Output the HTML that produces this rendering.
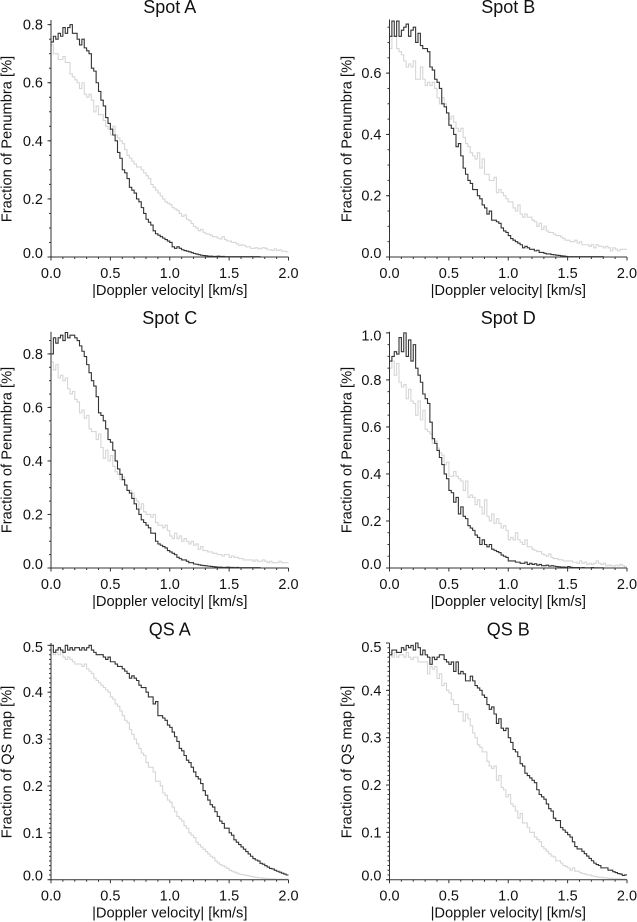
<!DOCTYPE html>
<html lang="en">
<head>
<meta charset="utf-8">
<title>Doppler velocity distributions</title>
<style>
html,body{margin:0;padding:0;background:#fff;width:637px;height:922px;overflow:hidden}
svg{display:block}
text{font-family:"Liberation Sans",Arial,sans-serif;fill:#111}
</style>
</head>
<body>
<svg id="chart" xmlns="http://www.w3.org/2000/svg" width="637" height="922" viewBox="0 0 637 922"></svg>
<script>
const xTickValues = [0, 0.5, 1, 1.5, 2];
const xTickLabels = ['0.0', '0.5', '1.0', '1.5', '2.0'];
const spotATicks = [0, 0.2, 0.4, 0.6, 0.8];
const spotBTicks = [0, 0.2, 0.4, 0.6];
const spotCTicks = [0, 0.2, 0.4, 0.6, 0.8];
const spotDTicks = [0, 0.2, 0.4, 0.6, 0.8, 1.0];
const qsTicks = [0, 0.1, 0.2, 0.3, 0.4, 0.5];

const spotADark = [.74,.76,.75,.77,.76,.79,.77,.79,.80,.77,.77,.75,.73,.75,.72,.71,.70,.65,.64,.60,.57,.54,.52,.48,.46,.44,.42,.40,.36,.34,.30,.29,.27,.24,.23,.22,.20,.19,.17,.15,.13,.12,.11,.09,.08,.075,.07,.065,.06,.055,.05,.035,.03,.035,.03,.025,.022,.02,.018,.015,.012,.01,.008,.006,.005,.004,.003,.003,.002,.002,.003,.002,.002,.001,.001,.001,.001,.001,.001,.001,.001,.001,.001,.001,.001,.001,.001,.001,0,0,0,0,0,0,0,0,0,0,0,0];
const spotALight = [.73,.70,.70,.68,.68,.69,.67,.67,.63,.62,.61,.60,.58,.60,.56,.55,.56,.54,.50,.52,.49,.49,.47,.45,.44,.42,.45,.42,.41,.40,.39,.37,.35,.34,.33,.32,.31,.31,.30,.29,.28,.27,.25,.24,.23,.22,.21,.20,.19,.185,.18,.17,.165,.16,.15,.14,.145,.13,.125,.115,.105,.10,.09,.095,.085,.08,.078,.075,.07,.07,.065,.062,.07,.06,.055,.055,.05,.05,.045,.04,.042,.04,.035,.035,.03,.03,.032,.028,.03,.032,.03,.025,.025,.022,.028,.022,.025,.02,.02,.018];

const spotBDark = [.72,.77,.72,.77,.72,.74,.75,.76,.72,.74,.75,.70,.73,.69,.68,.68,.67,.62,.61,.58,.57,.55,.50,.49,.47,.43,.42,.40,.36,.37,.33,.29,.27,.25,.24,.22,.22,.20,.19,.17,.16,.14,.15,.12,.12,.115,.11,.095,.085,.08,.07,.06,.055,.05,.045,.04,.03,.035,.03,.025,.025,.02,.022,.015,.015,.012,.01,.01,.008,.007,.006,.005,.004,.003,.002,.001,.001,.001,.001,.001,.001,.001,.001,.001,.001,.001,.001,.001,.001,.001,0,0,0,0,0,0,0,0,0,0];
const spotBLight = [.68,.72,.72,.68,.67,.66,.64,.62,.63,.62,.64,.58,.58,.62,.58,.56,.57,.56,.57,.55,.52,.50,.52,.50,.47,.45,.46,.44,.42,.41,.42,.39,.37,.36,.34,.33,.32,.34,.29,.32,.27,.27,.25,.25,.26,.21,.22,.21,.20,.19,.18,.18,.16,.15,.17,.14,.13,.14,.13,.13,.12,.115,.10,.11,.09,.10,.085,.08,.08,.075,.07,.07,.065,.06,.055,.055,.05,.05,.055,.045,.05,.04,.04,.04,.035,.04,.03,.04,.035,.035,.03,.035,.03,.02,.03,.025,.02,.025,.025,.025];

const spotCDark = [.80,.86,.84,.86,.87,.85,.88,.86,.87,.87,.86,.85,.83,.81,.79,.76,.73,.70,.68,.64,.58,.57,.55,.52,.48,.47,.44,.40,.37,.35,.33,.31,.29,.28,.26,.24,.22,.20,.18,.17,.16,.15,.13,.13,.10,.09,.085,.08,.075,.065,.06,.055,.05,.04,.035,.03,.03,.025,.02,.02,.015,.014,.012,.01,.009,.008,.007,.006,.005,.004,.003,.003,.002,.002,.003,.002,.002,.001,.002,.001,.001,.001,.001,.001,.001,.001,.001,.001,0,0,0,0,0,0,0,0,0,0,0,0];
const spotCLight = [.77,.74,.76,.71,.72,.70,.71,.67,.65,.66,.63,.62,.58,.59,.56,.57,.52,.51,.51,.48,.50,.45,.41,.44,.40,.42,.38,.36,.35,.33,.34,.31,.29,.29,.28,.26,.25,.22,.24,.21,.20,.20,.19,.20,.17,.16,.16,.15,.16,.14,.12,.11,.13,.11,.12,.10,.11,.10,.09,.10,.085,.09,.07,.08,.065,.065,.06,.06,.055,.055,.05,.05,.045,.05,.05,.04,.045,.04,.04,.035,.035,.03,.03,.03,.03,.025,.03,.025,.025,.03,.025,.02,.025,.02,.02,.02,.025,.02,.02,.02];

const spotDDark = [.88,.90,.92,.91,.98,.92,1.0,.90,.97,.88,.95,.85,.82,.79,.74,.72,.70,.62,.55,.53,.50,.47,.44,.40,.38,.33,.32,.28,.30,.23,.26,.22,.21,.18,.17,.16,.14,.13,.10,.12,.10,.09,.10,.08,.075,.07,.065,.055,.05,.045,.03,.03,.03,.025,.025,.02,.02,.025,.015,.02,.015,.018,.012,.015,.01,.01,.012,.008,.01,.008,.006,.005,.004,.004,.003,.006,.003,.002,.002,.002,.001,.002,.001,.001,.001,.002,.001,.001,.001,.001,0,0,0,0,0,0,0,0,0,0];
const spotDLight = [.85,.88,.82,.87,.79,.77,.78,.72,.76,.71,.70,.65,.71,.63,.67,.59,.58,.57,.53,.54,.51,.49,.48,.44,.45,.39,.39,.41,.39,.38,.37,.33,.37,.30,.31,.30,.27,.29,.26,.23,.29,.22,.20,.23,.19,.21,.19,.17,.18,.16,.12,.13,.12,.15,.12,.11,.10,.12,.09,.09,.08,.075,.07,.07,.06,.055,.05,.06,.045,.04,.04,.035,.035,.03,.03,.03,.03,.025,.025,.02,.03,.02,.025,.015,.02,.015,.02,.03,.02,.015,.02,.01,.012,.01,.008,.012,.01,.015,.01,.005];

const qsADark = [.50,.485,.49,.495,.49,.485,.50,.49,.495,.49,.495,.495,.49,.495,.49,.495,.50,.49,.485,.48,.48,.48,.475,.47,.475,.465,.465,.46,.455,.455,.45,.445,.44,.43,.435,.43,.425,.415,.41,.41,.40,.39,.39,.375,.38,.35,.35,.345,.34,.33,.325,.315,.305,.295,.28,.275,.265,.255,.25,.24,.23,.22,.215,.205,.19,.18,.17,.16,.155,.145,.135,.125,.12,.11,.11,.10,.095,.085,.08,.075,.07,.065,.06,.055,.05,.045,.042,.04,.035,.033,.03,.027,.024,.023,.02,.018,.016,.014,.012,.01];
const qsALight = [.49,.48,.485,.48,.49,.475,.47,.475,.47,.465,.46,.46,.46,.455,.46,.45,.445,.44,.43,.425,.42,.415,.41,.405,.40,.39,.385,.375,.37,.36,.35,.34,.335,.32,.31,.30,.29,.28,.27,.265,.25,.24,.24,.23,.21,.21,.20,.185,.18,.17,.165,.155,.145,.135,.13,.125,.115,.11,.10,.095,.09,.08,.075,.07,.065,.06,.055,.05,.047,.04,.036,.032,.03,.027,.024,.02,.018,.016,.014,.012,.011,.01,.009,.008,.007,.006,.005,.004,.004,.003,.003,.002,.002,.002,.001,.001,.001,.001,.001,.001];

const qsBDark = [.475,.485,.485,.48,.48,.49,.485,.495,.49,.495,.485,.50,.49,.475,.485,.475,.47,.455,.47,.465,.47,.475,.475,.465,.46,.455,.46,.44,.46,.435,.44,.435,.42,.42,.43,.42,.41,.405,.40,.39,.385,.37,.36,.365,.35,.33,.34,.32,.315,.32,.30,.29,.275,.27,.26,.245,.24,.225,.22,.215,.21,.205,.19,.18,.175,.17,.16,.15,.145,.13,.125,.125,.11,.105,.10,.095,.09,.08,.07,.065,.065,.06,.055,.05,.045,.04,.035,.032,.03,.025,.025,.025,.02,.02,.017,.015,.013,.012,.009,.01];
const qsBLight = [.48,.47,.48,.47,.475,.475,.47,.48,.47,.465,.47,.47,.46,.46,.46,.46,.435,.45,.445,.45,.425,.435,.41,.415,.40,.395,.38,.37,.37,.355,.355,.335,.35,.34,.325,.31,.30,.285,.28,.27,.27,.25,.24,.235,.24,.21,.22,.195,.19,.175,.18,.16,.155,.145,.13,.14,.12,.12,.11,.10,.10,.09,.085,.08,.07,.065,.06,.055,.05,.048,.04,.04,.035,.03,.028,.025,.02,.025,.018,.018,.015,.013,.012,.01,.01,.008,.007,.006,.005,.005,.004,.004,.003,.003,.002,.002,.002,.001,.001,.001];

const svg = document.getElementById('chart');
const NS = 'http://www.w3.org/2000/svg';

function make(tag, attrs, parent) {
  const el = document.createElementNS(NS, tag);
  for (const k in attrs) el.setAttribute(k, attrs[k]);
  parent.appendChild(el);
  return el;
}

function drawPanel(cfg) {
  const xScale = v => cfg.left + v / 2 * cfg.width;
  const yScale = v => cfg.bottom - v / cfg.yMax * (cfg.bottom - cfg.top);
  const g = make('g', {}, svg);
  
  

  function stepPath(values) {
    const bin = 2 / values.length;
    let d = '';
    values.forEach((v, i) => {
      const y = Math.max(yScale(v), cfg.top).toFixed(2);
      d += (i ? 'L' : 'M') + xScale(i * bin).toFixed(2) + ' ' + y;
      d += 'L' + xScale((i + 1) * bin).toFixed(2) + ' ' + y;
    });
    return d;
  }

  const light = make('path', {d: stepPath(cfg.light), fill: 'none', stroke: '#d6d6d6', 'stroke-width': 1.1}, g);
  
  
  const dark = make('path', {d: stepPath(cfg.dark), fill: 'none', stroke: '#333', 'stroke-width': 1.1}, g);
  
  

  const yAxis = make('line', {x1: cfg.left, x2: cfg.left, y1: cfg.top, y2: cfg.bottom, stroke: '#333', 'stroke-width': 1}, g);
  
  
  const xAxis = make('line', {x1: cfg.left, x2: cfg.left + cfg.width, y1: cfg.bottom, y2: cfg.bottom, stroke: '#333', 'stroke-width': 1}, g);
  
  

  for (let i = 0; i <= 20; i++) {
    const x = xScale(i / 10);
    const major = i % 5 === 0;
    make('line', {x1: x, x2: x, y1: cfg.bottom, y2: cfg.bottom + (major ? 3.5 : 2), stroke: '#333', 'stroke-width': 1}, g);
  }
  const minorCount = Math.round(cfg.yMax / cfg.minorStep);
  for (let i = 0; i <= minorCount; i++) {
    const y = yScale(i * cfg.minorStep);
    if (y < cfg.top - 0.1) continue;
    make('line', {x1: cfg.left - 2, x2: cfg.left, y1: y, y2: y, stroke: '#333', 'stroke-width': 1}, g);
  }
  cfg.ticks.forEach(v => {
    const y = yScale(v);
    make('line', {x1: cfg.left - 3.5, x2: cfg.left, y1: y, y2: y, stroke: '#333', 'stroke-width': 1}, g);
    const cy = Math.min(Math.max(y, cfg.top + 4), cfg.bottom - 4);
    const t = make('text', {x: cfg.left - 8, y: cy + 5, 'font-size': 14.5, 'text-anchor': 'end'}, g);
    
    
    t.textContent = v.toFixed(1);
  });
  xTickValues.forEach((v, i) => {
    const t = make('text', {x: xScale(v), y: cfg.bottom + 21, 'font-size': 14.5, 'text-anchor': 'middle'}, g);
    
    
    t.textContent = xTickLabels[i];
  });

  const title = make('text', {x: cfg.left + cfg.width / 2, y: cfg.bottom - 244, 'font-size': 18, 'text-anchor': 'middle'}, g);
  
  
  title.textContent = cfg.title;

  const xTitle = make('text', {x: cfg.left + cfg.width / 2, y: cfg.bottom + 38, 'font-size': 14.7, 'text-anchor': 'middle'}, g);
  
  
  xTitle.textContent = '|Doppler velocity| [km/s]';

  const yc = cfg.yTitleY;
  const yTitle = make('text', {x: 0, y: 0, 'font-size': 14.7, 'text-anchor': 'middle', transform: 'translate(' + cfg.yTitleX + ' ' + yc + ') rotate(-90)'}, g);
  
  
  yTitle.textContent = cfg.yTitle;
}

drawPanel({key: 'spot-a', title: 'Spot A', yTitle: 'Fraction of Penumbra [%]', dark: spotADark, light: spotALight, ticks: spotATicks, left: 51, width: 237.5, top: 20, bottom: 257, yMax: 0.816, minorStep: 0.05, yTitleX: 11.5, yTitleY: 139});
drawPanel({key: 'spot-b', title: 'Spot B', yTitle: 'Fraction of Penumbra [%]', dark: spotBDark, light: spotBLight, ticks: spotBTicks, left: 389.5, width: 237.5, top: 19.5, bottom: 257, yMax: 0.775, minorStep: 0.05, yTitleX: 351.5, yTitleY: 139});
drawPanel({key: 'spot-c', title: 'Spot C', yTitle: 'Fraction of Penumbra [%]', dark: spotCDark, light: spotCLight, ticks: spotCTicks, left: 51, width: 237.5, top: 331.7, bottom: 568, yMax: 0.883, minorStep: 0.05, yTitleX: 11.5, yTitleY: 450});
drawPanel({key: 'spot-d', title: 'Spot D', yTitle: 'Fraction of Penumbra [%]', dark: spotDDark, light: spotDLight, ticks: spotDTicks, left: 389.5, width: 237.5, top: 331.7, bottom: 568, yMax: 1.005, minorStep: 0.05, yTitleX: 351.5, yTitleY: 450});
drawPanel({key: 'qs-a', title: 'QS A', yTitle: 'Fraction of QS map [%]', dark: qsADark, light: qsALight, ticks: qsTicks, left: 51, width: 237.5, top: 643, bottom: 879.7, yMax: 0.505, minorStep: 0.01, yTitleX: 11.5, yTitleY: 762});
drawPanel({key: 'qs-b', title: 'QS B', yTitle: 'Fraction of QS map [%]', dark: qsBDark, light: qsBLight, ticks: qsTicks, left: 389.5, width: 237.5, top: 643, bottom: 879.7, yMax: 0.5, minorStep: 0.01, yTitleX: 351.5, yTitleY: 762});
</script>
</body>
</html>
